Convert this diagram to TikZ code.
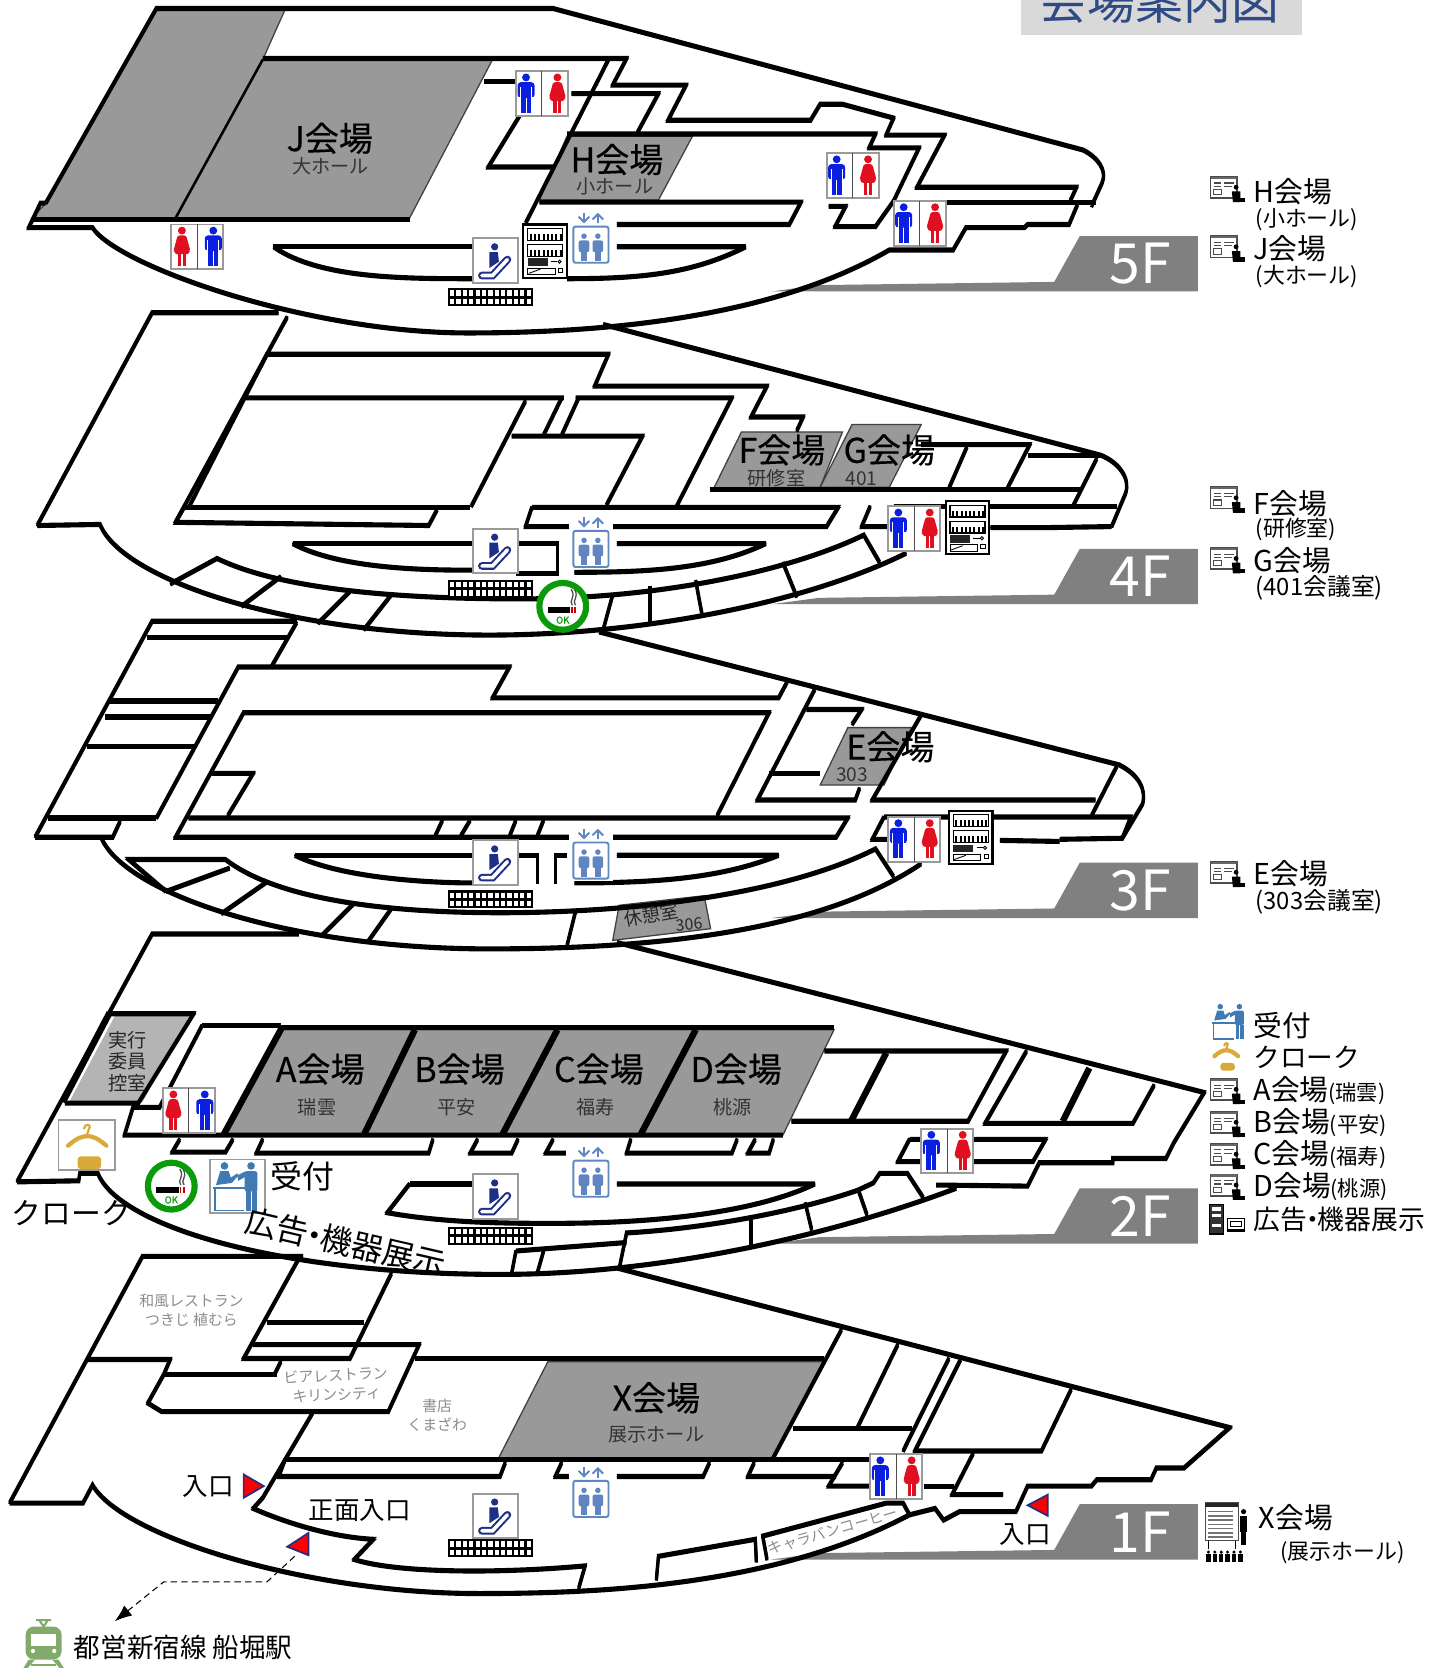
\documentclass[tikz,border=0pt]{standalone}
\usepackage{fontspec}
\setmainfont{Noto Sans CJK JP}
\newfontfamily\hallfont[FakeBold=0.3]{Noto Sans CJK JP}
\usetikzlibrary{arrows.meta}
\definecolor{hallgray}{HTML}{999999}
\definecolor{tabgray}{HTML}{808080}
\definecolor{roomgray}{HTML}{B4B4B4}
\definecolor{titlebox}{HTML}{D9D9D9}
\definecolor{titleblue}{HTML}{2F4B86}
\definecolor{wcblue}{HTML}{0A1FE0}
\definecolor{wcred}{HTML}{E01020}
\definecolor{escnavy}{HTML}{1F2F85}
\definecolor{liftblue}{HTML}{5F86C0}
\definecolor{deskblue}{HTML}{3F7AB5}
\definecolor{smokegreen}{HTML}{0A9A0A}
\definecolor{cloakgold}{HTML}{D9A93A}
\definecolor{traingreen}{HTML}{82AA6A}
\definecolor{framegray}{HTML}{9A9A9A}
\definecolor{shoptext}{HTML}{8C8C8C}
\newcommand{\fs}[1]{\fontsize{#1}{#1}\selectfont}
\newcommand{\manfig}[2]{%
  \fill[#2] (#1,5.8) circle (3.7);
  \fill[#2,rounded corners=1.5] (#1-8,10.3) rectangle (#1+8,25);
  \fill[white] (#1-5.6,15) rectangle (#1-4.8,26);
  \fill[white] (#1+4.8,15) rectangle (#1+5.6,26);
  \fill[white] (#1-8.5,24) rectangle (#1-5,26);
  \fill[white] (#1+5,24) rectangle (#1+8.5,26);
  \fill[#2] (#1-4.6,24) rectangle (#1-.5,39);
  \fill[#2] (#1+.5,24) rectangle (#1+4.6,39);}
\newcommand{\womanfig}[2]{%
  \fill[#2] (#1,5.8) circle (3.7);
  \fill[#2,rounded corners=1] (#1-4,10.3) -- (#1+4,10.3) -- (#1+8,25) -- (#1+6,25.5) -- (#1+6.5,28) -- (#1-6.5,28) -- (#1-6,25.5) -- (#1-8,25) -- cycle;
  \fill[#2] (#1-3.8,27) rectangle (#1-.6,39);
  \fill[#2] (#1+.6,27) rectangle (#1+3.8,39);}
\newcommand{\liftfig}[1]{%
  \fill[liftblue] (#1,25) circle (2.6);
  \fill[liftblue,rounded corners=1] (#1-5,29) rectangle (#1+5,40);
  \fill[liftblue] (#1-3,39) rectangle (#1+3,48);}
\tikzset{
  wall/.style={draw=black,line width=1.5pt,line join=miter,miter limit=3},
  heavywall/.style={draw=black,line width=3pt},
  hall/.style={fill=hallgray,draw=black!75,line width=.6pt},
  floortab/.style={fill=tabgray},
  tabtext/.style={text=white,font=\fs{26}},
  bigname/.style={font=\hallfont\fs{16},inner sep=0pt},
  subname/.style={font=\fs{9},inner sep=0pt,text=black!80},
  shopname/.style={font=\fs{7},inner sep=0pt,text=shoptext,align=center},
  legendname/.style={font=\fs{13.5},inner sep=0pt,anchor=west},
  legendsub/.style={font=\fs{10.3},inner sep=0pt,anchor=west},
  gate/.style={fill=red,draw=escnavy,line width=.8pt},
  pics/wcframe/.style={code={
    \draw[framegray,fill=white,line width=.9pt] (0,0) rectangle (49,42);
    \draw[black!70,line width=.5pt] (24.4,0) -- (24.4,42);}},
  pics/escalator/.style={code={
    \draw[framegray,fill=white,line width=.9pt] (0,0) rectangle (42,42);
    \fill[escnavy] (20,8) circle (3.4);
    \fill[escnavy] (15,13) -- (23,13) -- (24,22) -- (15,28) -- cycle;
    \draw[escnavy,line width=3.6pt,line cap=round] (8,35) -- (18,35) -- (32,20);
    \draw[white,line width=1.7pt,line cap=round] (8,35) -- (18,35) -- (32,20);}},
  pics/liftcar/.style={code={
    \fill[white] (0,0) rectangle (41,52);
    \draw[liftblue,line width=.9pt,rounded corners=1] (4,16) rectangle (37,50);
    \draw[liftblue,line width=.9pt,-{Straight Barb[length=2.5pt]}] (14,3) -- (14,13);
    \draw[liftblue,line width=.9pt,-{Straight Barb[length=2.5pt]}] (27,13) -- (27,3);
    \liftfig{14}\liftfig{27}}},
  pics/vendor/.style={code={
    \draw[black,fill=white,line width=1pt] (0,0) rectangle (41,50);
    \draw[black,line width=.6pt] (4,4) rectangle (37,15);
    \draw[black,line width=.6pt] (4,19) rectangle (37,30);
    \foreach \sx in {7,11,...,35}{
      \fill[black] (\sx-1,9) rectangle (\sx+1,15);
      \fill[black] (\sx-1,24) rectangle (\sx+1,30);}
    \fill[black!85] (4,32) rectangle (23,39);
    \draw[black,line width=.4pt] (26,35) -- (32,35);
    \draw[black,line width=.4pt] (34,35) circle (1.5);
    \draw[black,line width=.4pt] (4,41) rectangle (30,47);
    \draw[black,line width=.4pt] (5,46) -- (16,42);
    \draw[black,line width=.4pt] (33,41) rectangle (37,45);}},
  pics/tactile/.style={code={
    \fill[black] (0,0) rectangle (80,17);
    \foreach \sx in {0,...,12}{
      \fill[white] (2+6*\sx,2) rectangle (6+6*\sx,7);
      \fill[white] (2+6*\sx,10) rectangle (6+6*\sx,15);}}},
  pics/smokeok/.style={code={
    \draw[smokegreen,fill=white,line width=2.9pt] (0,0) circle (22);
    \fill[black] (-14,1) rectangle (7,6.5);
    \fill[red!80!black] (8,1) rectangle (9.5,6.5);
    \fill[red!80!black] (11,1) rectangle (12.5,6.5);
    \draw[black!70,line width=.6pt] (9,-1) .. controls (5,-6) and (13,-8) .. (8,-16);
    \draw[black!70,line width=.6pt] (12,-1) .. controls (8,-6) and (16,-8) .. (11,-16);
    \node[text=smokegreen,font=\hallfont\fs{4.5},inner sep=0pt] (okmark) at (0,13) {OK};}},
  pics/frontdesk/.style={code={
    \fill[deskblue] (14,6) circle (3.6);
    \fill[deskblue] (10,11) -- (18,11) -- (20,17) -- (26,13) -- (27,15) -- (21,22) -- (6,24) -- cycle;
    \fill[deskblue] (39,6) circle (3.6);
    \fill[deskblue,rounded corners=1] (33,11) rectangle (45,30);
    \fill[deskblue] (34,30) rectangle (38.5,48);
    \fill[deskblue] (40,30) rectangle (44.5,48);
    \fill[deskblue] (26,15) -- (34,11) -- (34,16) -- (27,20) -- cycle;
    \fill[deskblue] (3,26) rectangle (33,28);
    \draw[deskblue,line width=.7pt] (5,28) -- (5,48) -- (32,48);}},
  pics/hanger/.style={code={
    \draw[cloakgold,line width=1pt,line cap=round] (24,8) .. controls (24,3) and (32,3) .. (28.5,8.5) -- (27,13);
    \draw[cloakgold,line width=2pt,line cap=round] (9,24) .. controls (17,17) and (22,15) .. (27,15) .. controls (32,15) and (37,17) .. (45,24);
    \fill[cloakgold,rounded corners=1.5] (18,34) rectangle (40,46);
    \draw[cloakgold,line width=1.2pt] (22,36) arc[start angle=180,end angle=0,radius=7];}},
  pics/infoboard/.style={code={
    \draw[black!70,fill=white,line width=.8pt] (0,0) rectangle (25,20);
    \fill[black!60] (0,0) rectangle (25,2);
    \draw[black!70,line width=.5pt] (3,6) -- (10,6) (3,9) -- (10,9) (13,6) -- (22,6) (13,9) -- (20,9) (3,12) rectangle (10,17);
    \fill[black] (24,10) circle (2.3);
    \fill[black] (20,14) -- (28,14) -- (28,24) -- (21,24) -- cycle;
    \fill[black] (21,20) rectangle (32,24);}},
  pics/adstand/.style={code={
    \draw[black,fill=black!80,line width=.5pt] (0,0) rectangle (13,28);
    \fill[white] (2,3) rectangle (11,6);
    \fill[white] (2,9) rectangle (11,12);
    \fill[white] (2,19) rectangle (11,21);
    \draw[black,fill=white,line width=.5pt] (17,13) rectangle (33,26);
    \fill[black] (17,23) rectangle (33,26);
    \draw[black,line width=.4pt] (20,16) rectangle (30,21);}},
  pics/exhibit/.style={code={
    \draw[black!70,fill=white,line width=.7pt] (0,1) rectangle (31,36);
    \fill[black!85] (0,1) rectangle (31,5);
    \foreach \sy in {9,13,...,33}{\draw[black!55,line width=.7pt] (3,\sy) -- (26,\sy);}
    \fill[black] (36,9) circle (2.4);
    \fill[black] (33,13) rectangle (39,28);
    \fill[black] (34,28) rectangle (38,40);
    \draw[black,line width=.5pt] (3,37) -- (3,44) (28,37) -- (28,44);
    \foreach \sx in {3,9,...,33}{
      \fill[black] (\sx,47) circle (1.6);
      \fill[black] (\sx-2,49) rectangle (\sx+2,56);}}},
  pics/trainicon/.style={code={
    \draw[traingreen,line width=1pt] (12,1) -- (26,1) (15,1) -- (19,7) -- (23,1);
    \fill[traingreen,rounded corners=4] (2,7) rectangle (36,38);
    \fill[white] (7,14) rectangle (31,25);
    \fill[white] (9,30) circle (2);
    \fill[white] (29,30) circle (2);
    \fill[traingreen] (5,38) -- (11,38) -- (4,46) -- (0,46) -- cycle;
    \fill[traingreen] (27,38) -- (33,38) -- (38,46) -- (34,46) -- cycle;
    \fill[traingreen] (7,42) rectangle (31,44);}},
}
\newcommand{\wcmen}[1]{\pic at (#1) {wcframe};\begin{scope}[shift={(#1)}]\manfig{9.5}{wcblue}\womanfig{39}{wcred}\end{scope}}
\newcommand{\wcwomen}[1]{\pic at (#1) {wcframe};\begin{scope}[shift={(#1)}]\womanfig{10}{wcred}\manfig{39.5}{wcblue}\end{scope}}
\newcommand{\floorwalls}{%
  % 5F
  \draw[wall] (43,191) -- (147,8) -- (520,8) -- (1018,141) .. controls (1032,148) and (1041,160) .. (1036,172) -- (1026,194);
  \draw[wall] (43,191) -- (38,191) -- (27,214) -- (87,214) .. controls (110,250) and (290,313) .. (440,313) .. controls (620,313) and (750,285) .. (836,235) -- (896,235) -- (908,214) -- (963,214) -- (966,211) -- (1005,211) -- (1013,192);
  \draw[wall] (30,206) -- (385,206);
  \draw[wall] (247,55) -- (589,55) -- (576,80) -- (645,80) -- (628,113) -- (762,113) -- (771,98) -- (792,98) -- (840,111) -- (833,127) -- (888,127) -- (862,176) -- (1012,176) -- (1006,189);
  \draw[wall] (572,56) -- (494,210);
  \draw[wall] (455,77) -- (489,77);
  \draw[wall] (537,88) -- (619,88) -- (599,125);
  \draw[wall] (533,126) -- (823,126) -- (817,139) -- (864,139) -- (840,189) -- (823,213) -- (785,213) -- (795,194) -- (779,194);
  \draw[wall] (489,108) -- (459,157) -- (520,157);
  \draw[wall] (507,190) -- (753,190) -- (742,211) -- (580,211);
  \draw[wall] (840,190) -- (1030,190);
  \draw[wall] (257,232) -- (445,232);
  \draw[wall] (580,232) -- (701,232) .. controls (650,258) and (600,262) .. (533,262);
  \draw[wall] (257,232) .. controls (300,262) and (380,262) .. (445,262);
  % 4F
  \draw[wall] (35,494) -- (143,294) -- (262,294);
  \draw[wall] (567,305) -- (1035,428) .. controls (1052,435) and (1063,450) .. (1058,464) -- (1045,495);
  \draw[wall] (35,494) -- (94,493) .. controls (115,545) and (270,597) .. (460,597) .. controls (600,597) and (755,568) .. (852,520);
  \draw[wall] (270,298) -- (165,491);
  \draw[wall] (230,374) -- (251,333) -- (572,333) -- (559,363) -- (721,363) -- (706,392) -- (755,392) -- (749,405);
  \draw[wall] (178,476) -- (230,374) -- (530,374);
  \draw[wall] (541,374) -- (688,374) -- (636,476);
  \draw[wall] (494,377) -- (443,476);
  \draw[wall] (528,374) -- (511,409);
  \draw[wall] (544,374) -- (528,409);
  \draw[wall] (481,410) -- (604,410) -- (570,475);
  \draw[wall] (173,477) -- (442,477);
  \draw[wall] (500,477) -- (788,477) -- (777,495) -- (494,495) -- (500,477);
  \draw[wall] (173,477) -- (165,491) -- (403,494) -- (411,479);
  \draw[wall] (667,460) -- (1017,460);
  \draw[wall] (866,418) -- (968,418) -- (947,459);
  \draw[wall] (909,420) -- (892,459);
  \draw[wall] (966,428) -- (1035,428);
  \draw[wall] (1031,431) -- (1009,475);
  \draw[wall] (840,476) -- (1050,476);
  \draw[wall] (818,476) -- (810,495) -- (840,495);
  \draw[wall] (931,496) -- (983,496) -- (1045,495);
  \draw[wall] (160,549) -- (204,525) .. controls (260,552) and (360,563) .. (490,563) .. controls (610,563) and (735,540) .. (812,503) -- (827,529);
  \draw[wall] (736,529) -- (749,561);
  \draw[wall] (654,546) -- (660,578);
  \draw[wall] (611,552) -- (611,587);
  \draw[wall] (576,559) -- (567,592);
  \draw[wall] (264,542) -- (227,570);
  \draw[wall] (329,556) -- (299,586);
  \draw[wall] (368,559) -- (342,592);
  \draw[wall] (275,511) -- (445,511);
  \draw[wall] (485,511) -- (524,511) -- (524,539) -- (485,539);
  \draw[wall] (580,511) -- (720,511) .. controls (670,535) and (610,538) .. (540,538);
  \draw[wall] (275,511) .. controls (320,535) and (400,536) .. (445,536);
  % 3F
  \draw[wall] (33,787) -- (143,584) -- (279,584);
  \draw[wall] (563,594) -- (1052,719) .. controls (1070,728) and (1078,742) .. (1074,756) -- (1055,788);
  \draw[wall] (138,599) -- (270,599);
  \draw[wall] (279,585) -- (255,627);
  \draw[wall] (147,769) -- (224,627) -- (479,627) -- (463,656) -- (732,656) -- (740,641);
  \draw[wall] (103,659) -- (205,659);
  \draw[wall] (99,674) -- (199,674);
  \draw[wall] (82,702) -- (182,702);
  \draw[wall] (45,769) -- (147,769);
  \draw[wall] (113,772) -- (106,787) -- (33,787);
  \draw[wall] (674,767) -- (723,670) -- (229,670) -- (165,787) -- (786,787) -- (797,769) -- (177,769);
  \draw[wall] (199,727) -- (238,727) -- (214,767);
  \draw[wall] (416,771) -- (409,786);
  \draw[wall] (442,771) -- (433,786);
  \draw[wall] (485,771) -- (479,786);
  \draw[wall] (511,771) -- (505,786);
  \draw[wall] (766,648) -- (712,752) -- (804,752) -- (808,741);
  \draw[wall] (758,667) -- (810,667) -- (801,681);
  \draw[wall] (866,672) -- (820,752) -- (1030,752);
  \draw[wall] (723,727) -- (771,727);
  \draw[wall] (1050,720) -- (1026,767);
  \draw[wall] (831,768) -- (1063,768) -- (1055,788) -- (996,789);
  \draw[wall] (831,768) -- (820,789) -- (845,789);
  \draw[wall] (940,790) -- (996,791);
  \draw[wall] (95,787) .. controls (116,839) and (270,892) .. (460,892) .. controls (640,892) and (780,870) .. (866,812);
  \draw[wall] (156,838) -- (121,808) -- (212,808) .. controls (260,845) and (360,858) .. (470,858) .. controls (600,858) and (740,840) .. (823,798) -- (840,824);
  \draw[wall] (216,816) -- (156,838);
  \draw[wall] (251,829) -- (208,859);
  \draw[wall] (333,849) -- (303,879);
  \draw[wall] (368,854) -- (346,885);
  \draw[wall] (541,857) -- (533,889);
  \draw[wall] (277,804) -- (446,804);
  \draw[wall] (485,804) -- (505,804) -- (505,830);
  \draw[wall] (533,804) -- (522,804) -- (522,830);
  \draw[wall] (580,804) -- (732,804) .. controls (680,825) and (620,830) .. (540,830);
  \draw[wall] (277,804) .. controls (320,825) and (400,830) .. (445,830);
  % 2F
  \draw[wall] (16,1111) -- (143,878) -- (281,878);
  \draw[wall] (580,886) -- (1132,1027) -- (1103,1075) -- (1096,1089) -- (1046,1089) -- (1046,1093) -- (977,1093) -- (966,1115) -- (880,1114);
  \draw[wall] (16,1111) -- (74,1110) -- (75,1103) -- (92,1103) .. controls (113,1155) and (270,1198) .. (470,1198) .. controls (620,1198) and (780,1162) .. (899,1117);
  \draw[wall] (102,953) -- (182,953) -- (130,1037) -- (61,1037);
  \draw[wall] (190,964) -- (264,964);
  \draw[wall] (190,964) -- (150,1041) -- (125,1041) -- (117,1067) -- (736,1067);
  \draw[wall] (264,966) -- (784,966);
  \draw[wall] (775,988) -- (946,988) -- (910,1054) -- (744,1054);
  \draw[wall] (965,988) -- (926,1056) -- (1065,1056) -- (1085,1020);
  \draw[wall] (169,1071) -- (162,1083) -- (212,1083) -- (219,1071);
  \draw[wall] (247,1071) -- (241,1084) -- (403,1084) -- (407,1071);
  \draw[wall] (449,1071) -- (442,1084) -- (481,1084) -- (487,1071);
  \draw[wall] (520,1071) -- (513,1084) -- (532,1084);
  \draw[wall] (593,1071) -- (589,1084) -- (688,1084) -- (693,1071);
  \draw[wall] (710,1071) -- (703,1084) -- (723,1084) -- (727,1071);
  \draw[wall] (855,1071) -- (983,1071) -- (971,1092) -- (844,1092) -- (855,1071);
  \draw[wall] (385,1113) -- (450,1113);
  \draw[wall] (580,1113) -- (766,1113) .. controls (720,1135) and (640,1150) .. (520,1150) .. controls (480,1150) and (420,1150) .. (364,1140) -- (385,1113);
  \draw[wall] (485,1176) -- (589,1168);
  \draw[wall] (481,1197) -- (485,1176);
  \draw[wall] (505,1197) -- (511,1176);
  \draw[wall] (582,1193) -- (589,1159) .. controls (660,1155) and (745,1140) .. (806,1119) -- (821,1112) -- (827,1103) -- (853,1103) -- (868,1126);
  \draw[wall] (706,1143) -- (706,1172);
  \draw[wall] (757,1131) -- (763,1156);
  \draw[wall] (807,1119) -- (815,1142);
  % 1F
  \draw[wall] (9,1413) -- (134,1181) -- (285,1181);
  \draw[wall] (580,1192) -- (1156,1342) -- (1113,1380) -- (1087,1380) -- (1082,1391) -- (1031,1391) -- (1026,1397) -- (966,1397) -- (955,1421) -- (902,1421) -- (887,1429) -- (879,1418) -- (855,1424);
  \draw[wall] (9,1413) -- (78,1413) -- (87,1396) .. controls (115,1445) and (290,1498) .. (450,1498) .. controls (570,1498) and (730,1490) .. (855,1424) -- (849,1413) -- (833,1413) -- (717,1444) -- (721,1466);
  \draw[wall] (711,1468) -- (710,1447) -- (619,1463) -- (617,1485);
  \draw[wall] (82,1278) -- (160,1278) -- (154,1292) -- (139,1319) -- (152,1327) -- (365,1327) -- (394,1264) -- (238,1264);
  \draw[wall] (154,1292) -- (260,1292);
  \draw[wall] (264,1280) -- (258,1292);
  \draw[wall] (281,1183) -- (229,1277) -- (329,1277) -- (368,1197);
  \draw[wall] (251,1243) -- (342,1243);
  \draw[wall] (390,1277) -- (775,1277);
  \draw[wall] (791,1250) -- (726,1372);
  \draw[wall] (844,1264) -- (806,1342);
  \draw[wall] (745,1343) -- (857,1343);
  \draw[wall] (892,1277) -- (849,1364);
  \draw[wall] (903,1278) -- (860,1364) -- (979,1364) -- (1007,1306);
  \draw[wall] (294,1328) -- (247,1408) -- (238,1418) .. controls (265,1430) and (310,1445) .. (351,1447) -- (333,1466) .. controls (370,1478) and (460,1480) .. (550,1472) -- (544,1493);
  \draw[wall] (268,1372) -- (819,1372);
  \draw[wall] (915,1366) -- (895,1405) -- (943,1405);
  \draw[wall] (268,1372) -- (262,1388) -- (470,1388) -- (475,1375);
  \draw[wall] (528,1375) -- (522,1388) -- (536,1388);
  \draw[wall] (580,1388) -- (661,1388) -- (667,1375);
  \draw[wall] (709,1375) -- (703,1388) -- (786,1388);
  \draw[wall] (792,1375) -- (779,1397) -- (823,1397);
  \draw[wall] (869,1397) -- (897,1397);
}
\begin{document}
\begin{tikzpicture}[x=.5pt,y=-.5pt]
\useasboundingbox (0,0) rectangle (1358,1568);
% title
\fill[titlebox] (960,0) rectangle (1224,33);
\node[text=titleblue,font=\fs{22.5},inner sep=0pt] (title) at (1090,1) {会場案内図};
% halls
\path[hall] (147,9) -- (268,9) -- (247,56) -- (463,56) -- (385,205) -- (30,205) -- (43,191) -- cycle;
\path[hall] (533,128) -- (651,128) -- (619,188) -- (507,188) -- cycle;
\path[hall] (697,406) -- (792,406) -- (771,458) -- (671,459) -- cycle;
\path[hall] (801,399) -- (866,399) -- (836,458) -- (771,458) -- cycle;
\path[hall] (797,684) -- (857,684) -- (831,738) -- (771,738) -- cycle;
\path[hall] (582,851) -- (662,842) -- (668,873) -- (576,884) -- cycle;
\path[hall] (264,968) -- (784,968) -- (736,1067) -- (212,1067) -- cycle;
\fill[roomgray] (108,955) -- (178,955) -- (134,1036) -- (65,1036) -- cycle;
\path[hall] (515,1280) -- (775,1280) -- (726,1372) -- (468,1372) -- cycle;
% floor tabs
\foreach \ty in {222,516,811,1117,1414}{
  \fill[floortab] (1015,\ty) -- (1126,\ty) -- (1126,\ty+52) -- (725,\ty+52) -- (770,\ty+46) -- (991,\ty+43) -- cycle;}
% walls, stroked twice so that the flat ones come out heavier
\begin{scope}[yshift=.45pt]\floorwalls\end{scope}
\begin{scope}[yshift=-.45pt]\floorwalls\end{scope}
\draw[line width=1.2pt] (247,56) -- (165,205);
\draw[heavywall] (390,968) -- (342,1067) (524,968) -- (472,1067) (654,968) -- (602,1067);
\draw[heavywall] (265,966) -- (210,1067);
\draw[heavywall] (103,952) -- (59,1036);
\draw[heavywall] (833,990) -- (800,1054) (1024,1004) -- (999,1054);
% toilets
\wcmen{485,67}
\wcmen{777,144}
\wcmen{840,189}
\wcwomen{161,211}
\wcmen{835,476}
\wcmen{835,768}
\wcwomen{153,1023}
\wcmen{866,1061}
\wcmen{818,1367}
% escalators, lifts, mats
\foreach \ey in {224,497,790,1104,1404}{\pic at (445,\ey) {escalator};}
\foreach \ey in {197,483,776,1075,1376}{\pic at (535,\ey) {liftcar};}
\foreach \ey in {271,545,837,1153,1447}{\pic at (421,\ey) {tactile};}
\pic at (492,211) {vendor};
\pic at (889,471) {vendor};
\pic at (892,762) {vendor};
\pic at (529,570) {smokeok};
\pic (smoketwo) at (161,1115) {smokeok};
% cloak and reception
\draw[framegray,fill=white,line width=.9pt] (55,1053) rectangle (108,1100);
\pic at (55,1053) {hanger};
\draw[framegray,fill=white,line width=.9pt] (197,1090) rectangle (249,1140);
\pic at (197,1090) {frontdesk};
% entrances
\fill[gate] (229,1386) -- (248,1397) -- (229,1408) -- cycle;
\fill[gate] (290,1441) -- (270,1454) -- (290,1462) -- cycle;
\fill[gate] (985,1405) -- (966,1415) -- (985,1425) -- cycle;
\coordinate (stationfrom) at (277,1463);
\coordinate (stationto) at (108,1524);
\draw[densely dashed,line width=.5pt,-{Latex[length=8pt,width=6pt]}] (stationfrom) -- (251,1487) -- (154,1487) -- (stationto);
\pic at (22,1522) {trainicon};
% hall names
\node[bigname] (jhall) at (310,130) {J会場};
\node[subname] (jsub) at (311,156) {大ホール};
\node[bigname] (hhall) at (580,150) {H会場};
\node[subname] (hsub) at (578,175) {小ホール};
\node[bigname] (fhall) at (735,423) {F会場};
\node[subname] (fsub) at (730,450) {研修室};
\node[bigname] (ghall) at (836,423) {G会場};
\node[subname] (gsub) at (810,450) {401};
\node[bigname] (ehall) at (837,702) {E会場};
\node[subname] (esub) at (801,728) {303};
\node[font=\fs{8.5},inner sep=0pt,rotate=10,text=black!85] (restroom) at (612,860) {休憩室};
\node[font=\fs{7.5},inner sep=0pt,rotate=5,text=black!85] (restnum) at (648,869) {306};
\node[bigname] (ahall) at (301,1005) {A会場};
\node[bigname] (bhall) at (432,1005) {B会場};
\node[bigname] (chall) at (563,1005) {C会場};
\node[bigname] (dhall) at (692,1005) {D会場};
\node[subname] (asub) at (298,1041) {瑞雲};
\node[subname] (bsub) at (429,1041) {平安};
\node[subname] (csub) at (560,1041) {福寿};
\node[subname] (dsub) at (689,1041) {桃源};
\node[font=\fs{9},inner sep=0pt,align=center,text=black!85] (exec) at (120,998) {実行\\[1pt]委員\\[1pt]控室};
\node[font=\fs{14},inner sep=0pt] (cloakname) at (67,1140) {クローク};
\node[font=\fs{15},inner sep=0pt] (deskname) at (284,1106) {受付};
\node[font=\fs{15},inner sep=0pt,rotate=-13] (adname) at (325,1168) {広告\kern-.3em・\kern-.3em 機器展示};
\node[bigname] (xhall) at (617,1314) {X会場};
\node[subname] (xsub) at (617,1349) {展示ホール};
\node[shopname] (washoku) at (180,1232) {和風レストラン\\[2pt]つきじ 植むら};
\node[shopname,rotate=3] (beer) at (316,1302) {ビアレストラン\\[2pt]キリンシティ};
\node[shopname] (books) at (411,1330) {書店\\[2pt]くまざわ};
\node[shopname,rotate=16] (caravan) at (783,1439) {キャラバンコーヒー};
\node[font=\fs{12},inner sep=0pt] (doorone) at (196,1397) {入口};
\node[font=\fs{12},inner sep=0pt] (frontdoor) at (338,1420) {正面入口};
\node[font=\fs{12},inner sep=0pt] (doortwo) at (964,1443) {入口};
\node[font=\fs{12.5},inner sep=0pt,anchor=west] (station) at (69,1549) {都営新宿線 船堀駅};
% floor marks
\node[tabtext] (fivef) at (1072,248) {5F};
\node[tabtext] (fourf) at (1072,542) {4F};
\node[tabtext] (threef) at (1072,837) {3F};
\node[tabtext] (twof) at (1072,1143) {2F};
\node[tabtext] (onef) at (1072,1440) {1F};
% legend
\pic at (1138,166) {infoboard};
\node[legendname] (lgh) at (1178,180) {H会場};
\node[legendsub] (lghsub) at (1180,206) {(小ホール)};
\pic at (1138,222) {infoboard};
\node[legendname] (lgj) at (1178,234) {J会場};
\node[legendsub] (lgjsub) at (1180,260) {(大ホール)};
\pic at (1138,458) {infoboard};
\node[legendname] (lgf) at (1178,473) {F会場};
\node[legendsub] (lgfsub) at (1180,498) {(研修室)};
\pic at (1138,515) {infoboard};
\node[legendname] (lgg) at (1178,527) {G会場};
\node[legendsub,font=\fs{11.2}] (lggsub) at (1180,553) {(401会議室)};
\pic at (1138,810) {infoboard};
\node[legendname] (lge) at (1178,821) {E会場};
\node[legendsub,font=\fs{11.2}] (lgesub) at (1180,848) {(303会議室)};
\pic[scale=.72] at (1137,942) {frontdesk};
\node[legendname] (lgdesk) at (1178,964) {受付};
\pic[scale=.62] at (1136,978) {hanger};
\node[legendname,font=\fs{12.5}] (lgcloak) at (1178,994) {クローク};
\pic at (1138,1014) {infoboard};
\node[legendname] (lga) at (1178,1025) {A会場\fs{10}(瑞雲)};
\pic at (1138,1045) {infoboard};
\node[legendname] (lgb) at (1178,1055) {B会場\fs{10}(平安)};
\pic at (1138,1075) {infoboard};
\node[legendname] (lgc) at (1178,1085) {C会場\fs{10}(福寿)};
\pic at (1138,1104) {infoboard};
\node[legendname] (lgd) at (1178,1115) {D会場\fs{10}(桃源)};
\pic at (1137,1132) {adstand};
\node[legendname,font=\fs{12.6}] (lgad) at (1178,1146) {広告\kern-.3em・\kern-.3em 機器展示};
\pic at (1133,1412) {exhibit};
\node[legendname] (lgx) at (1183,1427) {X会場};
\node[legendsub] (lgxsub) at (1203,1460) {(展示ホール)};
\end{tikzpicture}
\end{document}
